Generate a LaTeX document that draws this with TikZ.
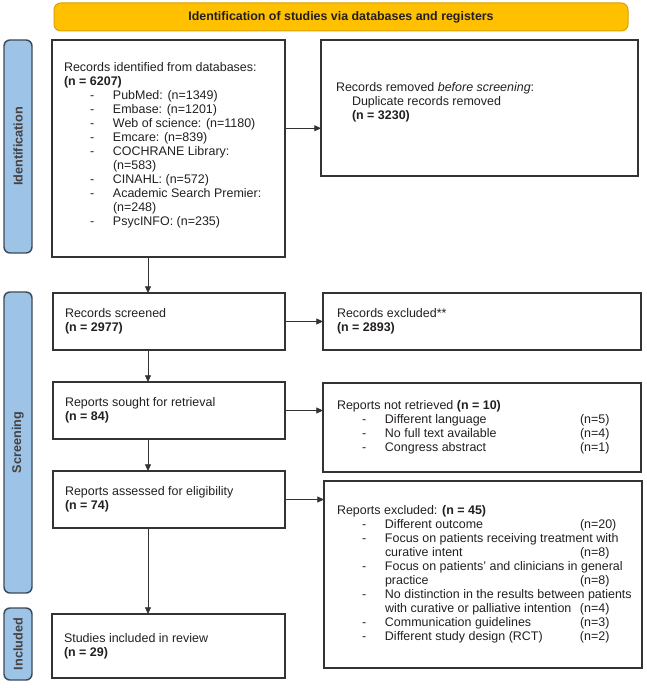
\documentclass[tikz,border=0pt]{standalone}
\usepackage{fontspec}
\setmainfont{Liberation Sans}
\usetikzlibrary{arrows.meta,calc}
\definecolor{banfill}{HTML}{FFC000}
\definecolor{bandraw}{HTML}{D9A300}
\definecolor{barfill}{HTML}{9DC3E6}
\definecolor{bardraw}{HTML}{3B4A5A}
\definecolor{ink}{HTML}{231F20}
\definecolor{boxdraw}{HTML}{333333}
\newcommand\lbul[1]{\makebox[36.75pt][l]{\hspace{19.5pt}-}#1}
\newcommand\rbul[2]{\makebox[36pt][l]{\hspace{18.75pt}-}\makebox[146.25pt][l]{#1}#2}
\newcommand\rdash{\makebox[36pt][l]{\hspace{18.75pt}-}}
\newcommand\rcont[2]{\hspace*{36pt}\makebox[146.25pt][l]{#1}#2}
\begin{document}
\begin{tikzpicture}[x=0.75pt,y=-0.75pt,
  every node/.style={inner sep=0pt, outer sep=0pt, text=ink, font=\fontsize{9.35}{10.5}\selectfont},
  pbox/.style={draw=boxdraw, line width=1pt, anchor=north west},
  txt/.style={anchor=west, align=left},
  bar/.style={draw=bardraw, fill=barfill, line width=1.1pt, rounded corners=4.5pt, anchor=north west, minimum width=21pt},
  barlabel/.style={rotate=90, font=\fontsize{9.5}{11}\selectfont\bfseries, text=ink!85},
  banner/.style={draw=bandraw, fill=banfill, line width=0.75pt, rounded corners=5pt, anchor=north west, minimum width=430.5pt, minimum height=21pt, font=\fontsize{9.3}{11}\selectfont\bfseries},
  arr/.style={draw=boxdraw, line width=0.6pt, -{Triangle[length=5pt,width=4.5pt]}},
]
\useasboundingbox (0,0) rectangle (646,688);

% banner
\node[banner] (ban) at (54,3) {Identification of studies via databases and registers};

% side bars
\node[bar, minimum height=159.75pt] (idbar) at (4,40) {};
\node[barlabel] (idlab) at (idbar.center) {Identification};
\node[bar, minimum height=225.75pt] (scbar) at (4,292) {};
\node[barlabel] (sclab) at (scbar.center) {Screening};
\node[bar, minimum height=54pt] (inbar) at (4,608) {};
\node[barlabel] (inlab) at (inbar.center) {Included};

% boxes
\node[pbox, minimum width=174.75pt, minimum height=162.75pt] (id) at (52,40) {};
\node[txt] (idt) at ($(id.west)+(12,-3)$) {Records identified from databases:\\
\textbf{(n = 6207)}\\
\lbul{PubMed: (n=1349)}\\
\lbul{Embase: (n=1201)}\\
\lbul{Web of science: (n=1180)}\\
\lbul{Emcare: (n=839)}\\
\lbul{COCHRANE Library:}\\
\hspace*{36.75pt}(n=583)\\
\lbul{CINAHL: (n=572)}\\
\lbul{Academic Search Premier:}\\
\hspace*{36.75pt}(n=248)\\
\lbul{PsycINFO: (n=235)}};

\node[pbox, minimum width=237.75pt, minimum height=102pt] (rem) at (321,40) {};
\node[txt] (remt) at ($(rem.west)+(15,-6)$) {Records removed \textit{before screening}:\\
\hspace*{12pt}Duplicate records removed\\
\hspace*{12pt}\textbf{(n = 3230)}};

\node[pbox, minimum width=174pt, minimum height=42.75pt] (scr) at (53,293) {};
\node[txt] (scrt) at ($(scr.west)+(12,0)$) {Records screened\\ \textbf{(n = 2977)}};

\node[pbox, minimum width=238.5pt, minimum height=42.75pt] (exc) at (323,293) {};
\node[txt] (exct) at ($(exc.west)+(14,0)$) {Records excluded**\\ \textbf{(n = 2893)}};

\node[pbox, minimum width=174pt, minimum height=42.75pt] (sought) at (53,382) {};
\node[txt] (soughtt) at ($(sought.west)+(12,0)$) {Reports sought for retrieval\\ \textbf{(n = 84)}};

\node[pbox, minimum width=238.5pt, minimum height=66.75pt] (nret) at (323,383) {};
\node[txt] (nrett) at ($(nret.west)+(14,0)$) {Reports not retrieved \textbf{(n = 10)}\\
\rbul{Different language}{(n=5)}\\
\rbul{No full text available}{(n=4)}\\
\rbul{Congress abstract}{(n=1)}};

\node[pbox, minimum width=174pt, minimum height=42.75pt] (assess) at (53,471) {};
\node[txt] (assesst) at ($(assess.west)+(12,0)$) {Reports assessed for eligibility\\ \textbf{(n = 74)}};

\node[pbox, minimum width=238.5pt, minimum height=140.25pt] (rex) at (324,481) {};
\node[txt] (rext) at ($(rex.west)+(13,0)$) {Reports excluded: \textbf{(n = 45)}\\
\rbul{Different outcome}{(n=20)}\\
\rdash Focus on patients receiving treatment with\\
\rcont{curative intent}{(n=8)}\\
\rdash Focus on patients' and clinicians in general\\
\rcont{practice}{(n=8)}\\
\rdash No distinction in the results between patients\\
\rcont{with curative or palliative intention}{(n=4)}\\
\rbul{Communication guidelines}{(n=3)}\\
\rbul{Different study design (RCT)}{(n=2)}};

\node[pbox, minimum width=174.75pt, minimum height=48pt] (incl) at (52,614) {};
\node[txt] (inclt) at ($(incl.west)+(12,0)$) {Studies included in review\\ \textbf{(n = 29)}};

% connectors
\coordinate (vx) at (148,0);
\coordinate (mid) at ($(id.east)!0.5!(rem.west)$);
\draw[arr] (id.east |- mid) -- (rem.west |- mid);
\draw[arr] (id.south -| vx) -- (scr.north -| vx);
\draw[arr] (scr.east) -- (scr.east -| exc.west);
\draw[arr] (scr.south -| vx) -- (sought.north -| vx);
\draw[arr] (sought.east) -- (sought.east -| nret.west);
\draw[arr] (sought.south -| vx) -- (assess.north -| vx);
\draw[arr] (assess.east) -- (assess.east -| rex.west);
\draw[arr] (assess.south -| vx) -- (incl.north -| vx);
\end{tikzpicture}
\end{document}
